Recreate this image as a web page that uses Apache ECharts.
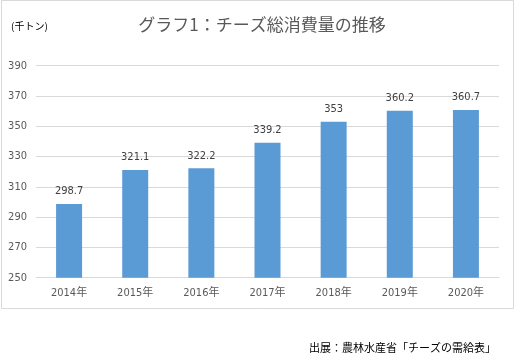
<!DOCTYPE html>
<html><head><meta charset="utf-8">
<script src="https://cdn.jsdelivr.net/npm/echarts@6/dist/echarts.min.js"></script>
<style>html,body{margin:0;padding:0;background:#fff}#c{width:520px;height:359px}</style>
</head><body><div id="c"></div>
<script>
const categories = ['2014年','2015年','2016年','2017年','2018年','2019年','2020年'];
const values = [298.7, 321.1, 322.2, 339.2, 353, 360.2, 360.7];
const yMin = 250, yMax = 390, yStep = 20;
const narrow = "'DejaVu Sans Condensed', 'Noto Sans CJK JP', sans-serif";
const chart = echarts.init(document.getElementById('c'), null, {renderer:'canvas'});
chart.setOption({
  animation:false,
  backgroundColor:'#fff',
  graphic:[
    {type:'rect', shape:{x:1.5,y:0.5,width:512,height:308}, style:{fill:'none',stroke:'#d9d9d9',lineWidth:1}, z:-1},
    {type:'text', left:11, top:21, style:{text:'(千トン)', font:"10px 'Noto Sans CJK JP'", fill:'#000'}},
    {type:'text', right:24, top:342, style:{text:'出展：農林水産省「チーズの需給表」', font:"11px 'Noto Sans CJK JP'", fill:'#000'}}
  ],
  title:{text:'グラフ1：チーズ総消費量の推移', left:257, textAlign:'center', top:11,
    textStyle:{fontSize:17, fontWeight:'normal', color:'#595959', fontFamily:'Noto Sans CJK JP'}},
  grid:{left:36, right:21, top:65.7, bottom:81.3, containLabel:false},
  xAxis:{type:'category', data:categories,
    axisLine:{lineStyle:{color:'#d9d9d9'}}, axisTick:{show:false},
    axisLabel:{color:'#595959', fontSize:11, fontFamily:narrow, margin:10}},
  yAxis:{type:'value', min:yMin, max:yMax, interval:yStep,
    axisLine:{show:false}, axisTick:{show:false},
    splitLine:{lineStyle:{color:'#d9d9d9'}},
    axisLabel:{color:'#595959', fontSize:11, fontFamily:narrow, margin:9}},
  series:[{type:'bar', data:values, barWidth:26, itemStyle:{color:'#5b9bd5'},
    label:{show:true, position:'top', distance:7, color:'#404040', fontSize:11, fontFamily:narrow}}]
});
</script></body></html>
